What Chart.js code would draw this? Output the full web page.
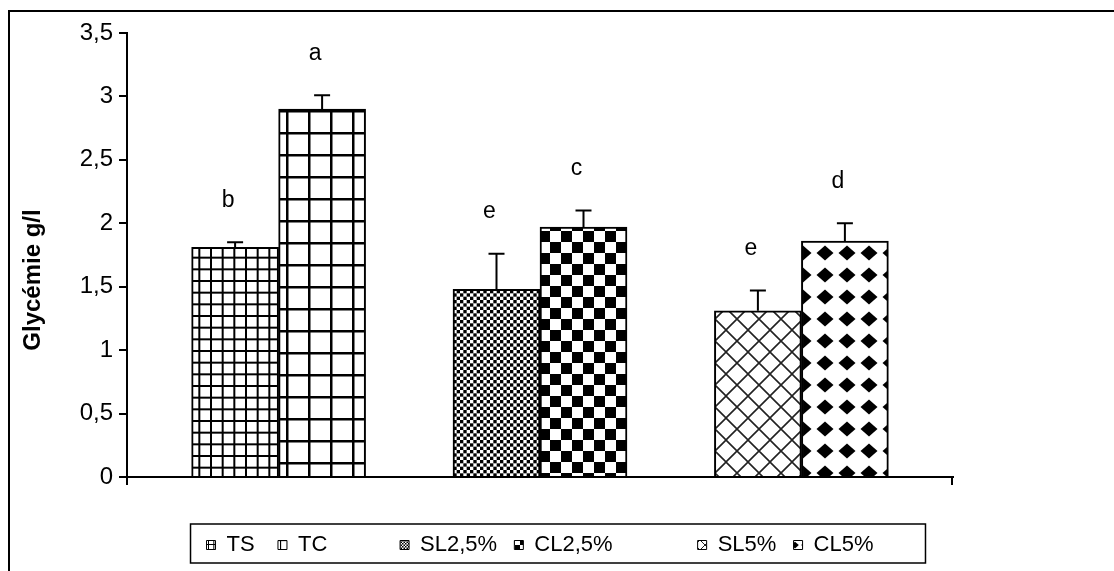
<!DOCTYPE html>
<html>
<head>
<meta charset="utf-8">
<script src="https://cdn.jsdelivr.net/npm/chart.js@4.4.1/dist/chart.umd.min.js"></script>
<style>
  html, body { margin: 0; padding: 0; background: #fff; }
</style>
</head>
<body>
<canvas id="chart1" width="1114" height="571"></canvas>
<script>
// position of each group on the x axis (groups have no name in the figure)
const groups = [1, 2, 3];
// legend entries, in the order they appear
const seriesNames = ['TS', 'TC', 'SL2,5%', 'CL2,5%', 'SL5%', 'CL5%'];
// left bar of each group: TS, SL2,5%, SL5%
const leftValues = [1.81, 1.48, 1.31];
const leftErrors = [0.04, 0.28, 0.16];
const leftLetters = ['b', 'e', 'e'];
// right bar of each group: TC, CL2,5%, CL5%
const rightValues = [2.90, 1.97, 1.86];
const rightErrors = [0.11, 0.13, 0.14];
const rightLetters = ['a', 'c', 'd'];
// y axis ticks
const yTicks = [0, 0.5, 1, 1.5, 2, 2.5, 3, 3.5];

const FONT = "'Liberation Sans', Arial, Helvetica, sans-serif";

//Cree les motifs noir et blanc des barres
function makePattern(kind, s) {
    const c = document.createElement('canvas');
    const g = c.getContext('2d');
    let t;
    if (kind === 'gridSmall') {
        t = Math.round(35 * s);
        c.width = c.height = t;
        g.fillStyle = '#fff'; g.fillRect(0, 0, t, t);
        g.fillStyle = '#000';
        const w = Math.max(1, 2 * s);
        for (let k = 0; k < 3; k++) {
            g.fillRect(k * t / 3, 0, w, t);
            g.fillRect(0, k * t / 3, t, w);
        }
    } else if (kind === 'gridLarge') {
        t = Math.round(22 * s);
        c.width = c.height = t;
        g.fillStyle = '#fff'; g.fillRect(0, 0, t, t);
        g.fillStyle = '#000';
        const w = Math.max(1, 2.5 * s);
        g.fillRect(0, 0, w, t);
        g.fillRect(0, 0, t, w);
    } else if (kind === 'checkSmall') {
        t = Math.round(20 * s);
        c.width = c.height = t;
        g.fillStyle = '#fff'; g.fillRect(0, 0, t, t);
        g.fillStyle = '#000';
        const n = 6, d = t / n;
        for (let i = 0; i < n; i++)
            for (let j = 0; j < n; j++)
                if ((i + j) % 2 === 0) g.fillRect(i * d, j * d, d, d);
    } else if (kind === 'checkLarge') {
        t = Math.round(22 * s);
        c.width = c.height = t;
        g.fillStyle = '#fff'; g.fillRect(0, 0, t, t);
        g.fillStyle = '#000';
        g.fillRect(0, 0, t / 2, t / 2);
        g.fillRect(t / 2, t / 2, t / 2, t / 2);
    } else if (kind === 'lattice') {
        t = Math.round(22 * s);
        c.width = c.height = t;
        g.fillStyle = '#fff'; g.fillRect(0, 0, t, t);
        g.strokeStyle = '#222';
        g.lineWidth = Math.max(1, 1.6 * s);
        g.beginPath();
        for (const o of [-t, 0, t]) {
            g.moveTo(o, 0); g.lineTo(o + t, t);
            g.moveTo(o + t, 0); g.lineTo(o, t);
        }
        g.stroke();
    } else if (kind === 'diamonds') {
        t = Math.round(22 * s);
        c.width = c.height = t;
        g.fillStyle = '#fff'; g.fillRect(0, 0, t, t);
        g.fillStyle = '#000';
        const hw = 8.5 * s, hh = 7.5 * s, m = t / 2;
        g.beginPath();
        g.moveTo(m - hw, m); g.lineTo(m, m - hh); g.lineTo(m + hw, m); g.lineTo(m, m + hh);
        g.closePath();
        g.fill();
    }
    return g.createPattern(c, 'repeat');
}

const kinds = ['gridSmall', 'gridLarge', 'checkSmall', 'checkLarge', 'lattice', 'diamonds'];
const barFills = kinds.map(k => makePattern(k, 1));
const legendFills = kinds.map(k => makePattern(k, 0.45));

// legend: blank entries (made of spaces) keep the gaps of the original figure
const legendTexts = [seriesNames[0] + '   ', seriesNames[1], '       ',
    seriesNames[2] + '  ', seriesNames[3], '         ',
    seriesNames[4] + '  ', seriesNames[5]];
const legendSource = [0, 1, -1, 2, 3, -1, 4, 5];

const legendItems = legendTexts.map((txt, i) => {
    const k = legendSource[i];
    return {
        text: txt,
        fillStyle: k < 0 ? 'rgba(0,0,0,0)' : legendFills[k],
        strokeStyle: k < 0 ? 'rgba(0,0,0,0)' : '#000',
        lineWidth: k < 0 ? 0 : 1,
        hidden: false,
        fontColor: '#000'
    };
});

//Barres d'erreur et lettres de significativite
const errorBars = {
    id: 'errorBars',
    afterDatasetsDraw(chart) {
        const c = chart.ctx;
        const yScale = chart.scales.y;
        chart.data.datasets.forEach((ds, di) => {
            const meta = chart.getDatasetMeta(di);
            meta.data.forEach((bar, i) => {
                const top = yScale.getPixelForValue(ds.data[i].y + ds.errors[i]);
                c.save();
                c.strokeStyle = '#000';
                c.lineWidth = 2;
                c.beginPath();
                c.moveTo(bar.x, bar.y);
                c.lineTo(bar.x, top);
                c.moveTo(bar.x - 8, top);
                c.lineTo(bar.x + 8, top);
                c.stroke();
                c.fillStyle = '#000';
                c.font = '23px ' + FONT;
                c.textAlign = 'center';
                c.textBaseline = 'middle';
                c.fillText(ds.letters[i], bar.x - 7, top - 42);
                c.restore();
            });
        });
    }
};

//Cadre, titre de l'axe y, traits aux bouts de l'axe x, bordure de legende
const decorations = {
    id: 'decorations',
    afterDraw(chart) {
        const c = chart.ctx;
        const a = chart.chartArea;
        c.save();
        c.strokeStyle = '#000';
        c.lineWidth = 2;
        c.beginPath();
        c.moveTo(9, chart.height);
        c.lineTo(9, 11);
        c.lineTo(chart.width, 11);
        c.stroke();

        c.beginPath();
        c.moveTo(a.left, a.bottom);
        c.lineTo(a.left, a.bottom + 8);
        c.moveTo(a.right - 1, a.bottom);
        c.lineTo(a.right - 1, a.bottom + 8);
        c.stroke();

        c.save();
        c.translate(a.left - 94, (a.top + a.bottom) / 2 + 25);
        c.rotate(-Math.PI / 2);
        c.fillStyle = '#000';
        c.font = 'bold 24px ' + FONT;
        c.textAlign = 'center';
        c.textBaseline = 'middle';
        c.fillText('Glycémie g/l', 0, 0);
        c.restore();

        const hb = chart.legend.legendHitBoxes;
        if (hb && hb.length) {
            const first = hb[0], last = hb[hb.length - 1];
            const mid = first.top + first.height / 2;
            c.lineWidth = 1.5;
            c.strokeRect(first.left - 16, mid - 21, last.left + last.width + 52 - (first.left - 16), 39);
        }
        c.restore();
    }
};

const config = {
    type: 'bar',
    data: {
        datasets: [{
            label: 'gauche',
            data: groups.map((g, i) => ({ x: g, y: leftValues[i] })),
            backgroundColor: [barFills[0], barFills[2], barFills[4]],
            errors: leftErrors,
            letters: leftLetters
        }, {
            label: 'droite',
            data: groups.map((g, i) => ({ x: g, y: rightValues[i] })),
            backgroundColor: [barFills[1], barFills[3], barFills[5]],
            errors: rightErrors,
            letters: rightLetters
        }]
    },
    options: {
        responsive: false,
        animation: false,
        layout: { padding: { left: 0, right: 161, top: 33, bottom: 5 } },
        datasets: {
            bar: { barThickness: 87, borderColor: '#000', borderWidth: 2 }
        },
        scales: {
            x: {
                type: 'linear',
                offset: false,
                min: 0.42,
                max: 3.58,
                ticks: { display: false },
                grid: { display: false, offset: false },
                border: { display: true, color: '#000', width: 2 },
                afterFit: s => { s.height = 52; }
            },
            y: {
                min: 0,
                max: 3.5,
                afterBuildTicks: s => { s.ticks = yTicks.map(v => ({ value: v })); },
                ticks: {
                    color: '#000',
                    padding: 6,
                    font: { size: 24, family: FONT },
                    callback: v => String(v).replace('.', ',')
                },
                grid: { drawOnChartArea: false, drawTicks: true, tickLength: 8, color: '#000', lineWidth: 2 },
                border: { color: '#000', width: 2 },
                afterFit: s => { s.width = 127; }
            }
        },
        plugins: {
            legend: {
                position: 'bottom',
                fullSize: false,
                onClick: null,
                labels: {
                    boxWidth: 9,
                    boxHeight: 9,
                    padding: 5,
                    color: '#000',
                    font: { size: 22, family: FONT },
                    generateLabels: () => legendItems
                }
            },
            tooltip: { enabled: false }
        }
    },
    plugins: [errorBars, decorations]
};

new Chart(document.getElementById('chart1'), config);
</script>
</body>
</html>
